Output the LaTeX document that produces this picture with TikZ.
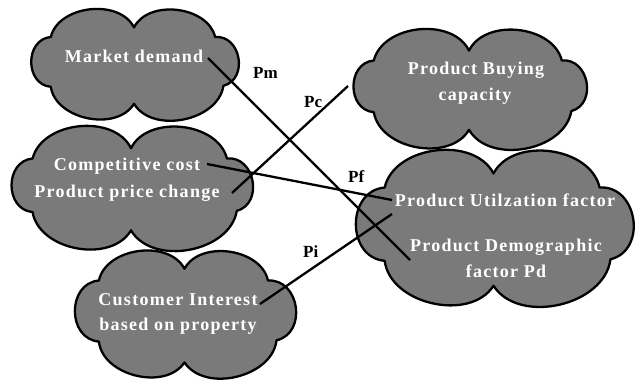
\documentclass[tikz,border=0pt]{standalone}
\usepackage{fontspec}
\setmainfont{Liberation Serif}
\definecolor{cloudgray}{RGB}{122,122,122}
\tikzset{
  cloudline/.style={draw=black, fill=cloudgray, line width=2.3pt, line join=round},
  % six-puff cloud; #1 and #2 are its half width and half height.
  % Each entry: next dip (as fractions of the half sizes), bend, looseness.
  pics/puffcloud/.style n args={2}{code={
    \path[cloudline] (0,{-0.68*#2})
      \foreach \u/\v/\b/\l in {0.78/0.50/70/1, 0.86/-0.42/85/1.35,
                               0/-0.76/70/1, -0.80/-0.44/70/1,
                               -0.80/0.50/85/1.35, 0/0.68/70/1} {
        to[bend left=\b, looseness=\l] ({\u*#1},{-\v*#2})
      } -- cycle;
  }},
  ctext/.style={text=white, anchor=base, inner sep=0pt,
    font=\bfseries\fontsize{18}{18}\selectfont\addfontfeature{LetterSpace=7}},
  plabel/.style={anchor=base west, inner sep=0pt,
    font=\bfseries\fontsize{17}{17}\selectfont},
  link/.style={line width=2.3pt},
}
\begin{document}
\begin{tikzpicture}[x=1pt, y=-1pt]
\useasboundingbox (0,0) rectangle (635,383);

% cloud centres
\coordinate (cmarket) at (134,63.5);
\coordinate (ccost)   at (131,187);
\coordinate (cint)    at (184.5,313);
\coordinate (cbuy)    at (469,88);
\coordinate (cutil)   at (493.5,226.5);

% clouds
\pic at (cmarket) {puffcloud={104}{53}};
\pic at (ccost)   {puffcloud={123}{57}};
\pic at (cint)    {puffcloud={107}{65}};
\pic at (cbuy)    {puffcloud={119}{55}};
\pic at (cutil)   {puffcloud={136}{78}};

% cloud texts
\node[ctext] (tmarket) at (134,62)  {Market demand};
\node[ctext] (tcost)   at (127,170) {Competitive cost};
\node[ctext] (tprice)  at (127,197) {Product price change};
\node[ctext] (tbuy1)   at (476,74)  {Product Buying};
\node[ctext] (tbuy2)   at (475,100) {capacity};
\node[ctext] (tint1)   at (178,305) {Customer Interest};
\node[ctext] (tint2)   at (178,330) {based on property};
\node[ctext] (tutil)   at (505,206) {Product Utilzation factor};
\node[ctext] (tdemo1)  at (506,251) {Product Demographic};
\node[ctext] (tdemo2)  at (506,277) {factor Pd};

% connector ends
\coordinate (mA) at (208,58);
\coordinate (mB) at (410,260);
\coordinate (cA) at (232,193);
\coordinate (cB) at (348,86);
\coordinate (fA) at (207,164);
\coordinate (fB) at (392,200);
\coordinate (iA) at (260,304);
\coordinate (iB) at (392,214);

% connectors
\draw[link] (mA) -- (mB);
\draw[link] (cA) -- (cB);
\draw[link] (fA) -- (fB);
\draw[link] (iA) -- (iB);

% connector labels
\node[plabel] (lpm) at (253,78)  {Pm};
\node[plabel] (lpc) at (304,107) {Pc};
\node[plabel] (lpf) at (348,182) {Pf};
\node[plabel] (lpi) at (303,257) {Pi};
\end{tikzpicture}
\end{document}
